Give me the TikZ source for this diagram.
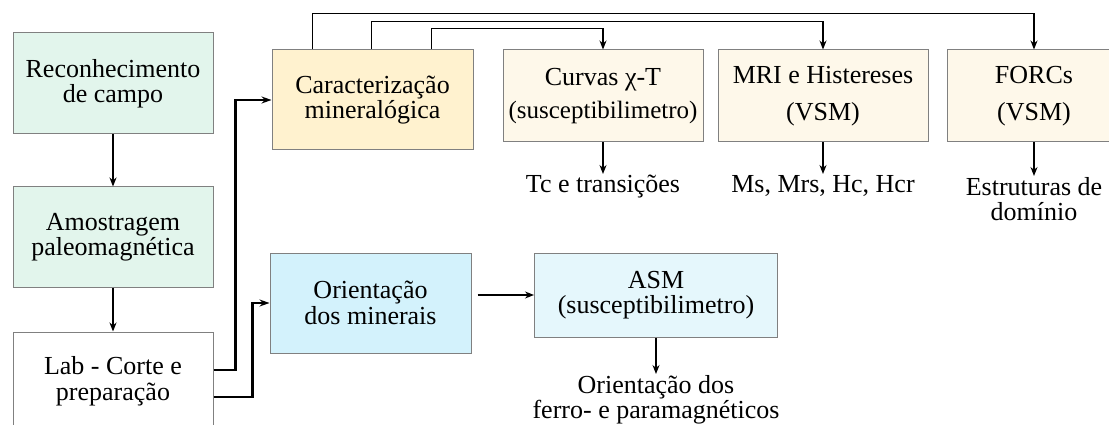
\documentclass[tikz,border=0pt]{standalone}
\usepackage{fontspec}
\setmainfont{Liberation Serif}
\usetikzlibrary{arrows.meta}
\definecolor{boxgreen}{HTML}{E2F5EC}
\definecolor{boxyellow}{HTML}{FFF2CF}
\definecolor{boxcream}{HTML}{FEF8EA}
\definecolor{boxblue}{HTML}{D3F2FC}
\definecolor{boxpale}{HTML}{E5F7FC}
\definecolor{boxline}{HTML}{808080}
\tikzset{
  box/.style={draw=boxline, line width=1pt, align=center, inner sep=0pt,
    font=\fontsize{26}{25.5}\selectfont},
  lbl/.style={align=center, inner sep=1pt, font=\fontsize{26}{25.5}\selectfont},
  conn/.style={draw=black, line width=1.5pt, -{Stealth[length=9pt,width=7pt]}},
  thin conn/.style={draw=black, line width=1.3pt, -{Stealth[length=9pt,width=7pt]}},
  thick conn/.style={draw=black, line width=2.2pt, -{Stealth[length=10pt,width=7pt]}}
}
\begin{document}
\begin{tikzpicture}[x=1pt,y=-1pt]
\useasboundingbox (0,0) rectangle (1109,425);
\clip (0,0) rectangle (1109,425);
\fill[white] (0,0) rectangle (1109,425);
% left column
\node[box, fill=boxgreen, minimum width=200pt, minimum height=101pt] (rec) at (113,83.5) {Reconhecimento\\de campo};
\node[box, fill=boxgreen, minimum width=200pt, minimum height=100pt] (amo) at (113,237) {Amostragem\\paleomagnética};
\node[box, fill=white, minimum width=200pt, minimum height=98pt] (lab) at (113,381) {Lab - Corte e\\preparação};
% caracterizacao branch
\node[box, fill=boxyellow, minimum width=201pt, minimum height=100pt] (car) at (372.5,100) {Caracterização\\mineralógica};
\node[box, fill=boxcream, minimum width=200pt, minimum height=92pt, font=\fontsize{26}{33}\selectfont] (cur) at (603,96) {Curvas χ-T\\{\fontsize{25}{33}\selectfont(susceptibilimetro)}};
\node[box, fill=boxcream, minimum width=210pt, minimum height=92pt, font=\fontsize{26}{37}\selectfont] (mri) at (823,96) {MRI e Histereses\\(VSM)};
\node[box, fill=boxcream, minimum width=174pt, minimum height=92pt, font=\fontsize{26}{37}\selectfont] (frc) at (1034,96) {FORCs\\(VSM)};
\node[lbl, anchor=north] (tc) at (603,174) {Tc e transições};
\node[lbl, anchor=north] (ms) at (823,174) {Ms, Mrs, Hc, Hcr};
\node[lbl, anchor=north] (est) at (1034,176) {Estruturas de\\domínio};
% orientacao branch
\node[box, fill=boxblue, minimum width=201pt, minimum height=100pt] (ori) at (370.5,303) {Orientação\\dos minerais};
\node[box, fill=boxpale, minimum width=243pt, minimum height=84pt] (asm) at (656,295) {ASM\\(susceptibilimetro)};
\node[lbl, anchor=north] (odf) at (656,374) {Orientação dos\\ferro- e paramagnéticos};
% connectors
\draw[conn] (rec.south) -- (amo.north);
\draw[conn] (amo.south) -- (lab.north);
\draw[thick conn] ([yshift=11pt]lab.east) -- ++(22,0) |- (car.west);
\draw[thick conn] ([yshift=-16pt]lab.east) -- ++(39,0) |- (ori.west);
\draw[thin conn, shorten <=6pt] (ori.east |- asm.west) -- (asm.west);
\draw[thin conn] (asm.south) -- (odf.north);
\draw[thin conn] ([xshift=41pt]car.north west) -- ++(0,-36) -| (frc.north);
\draw[thin conn] ([xshift=100pt]car.north west) -- ++(0,-28) -| (mri.north);
\draw[thin conn] ([xshift=160pt]car.north west) -- ++(0,-21) -| (cur.north);
\draw[thin conn] (cur.south) -- (tc.north);
\draw[thin conn] (mri.south) -- (ms.north);
\draw[thin conn] (frc.south) -- (est.north);
\end{tikzpicture}
\end{document}
